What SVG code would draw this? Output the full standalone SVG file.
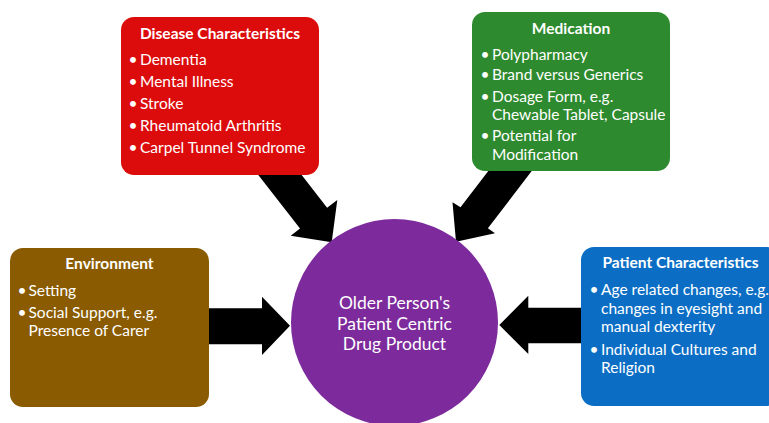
<svg xmlns="http://www.w3.org/2000/svg" width="769" height="423" viewBox="0 0 769 423">
<style>
.t{font-family:Lato,"Open Sans","Liberation Sans",sans-serif;fill:#ffffff}
.h{font-size:15.5px;font-weight:bold;text-anchor:middle}
.i{font-size:15.5px}
.b{font-size:15.5px;text-anchor:middle}
.c{font-size:17.5px;text-anchor:middle}
.arrow{fill:#000000}
</style>
<rect width="769" height="423" fill="#ffffff"/>
<g id="connectors">
<polygon class="arrow" points="258.3,175 301.7,175 327.1,207.8 337.3,200 331.7,242.3 290.7,235.7 300,228.6"/>
<polygon class="arrow" points="488.3,171 531.7,171 487.9,228.3 495,233.2 456,241.7 452.5,202.3 460.5,207.3"/>
<polygon class="arrow" points="205,308.3 262,308.3 262,296.7 290,325.7 262,355 262,344.3 205,344.3"/>
<polygon class="arrow" points="585,307.7 528.3,307.7 528.3,295.7 499.3,325 528.3,354 528.3,343.3 585,343.3"/>
</g>
<g id="disease">
<rect x="121" y="17" width="198" height="158" rx="13" fill="#dc0c0c"/>
<text class="t h" x="220" y="39">Disease Characteristics</text>
<text class="t b" x="133" y="65">•</text><text class="t i" x="140" y="65">Dementia</text>
<text class="t b" x="133" y="87">•</text><text class="t i" x="140" y="87">Mental Illness</text>
<text class="t b" x="133" y="109">•</text><text class="t i" x="140" y="109">Stroke</text>
<text class="t b" x="133" y="131">•</text><text class="t i" x="140" y="131">Rheumatoid Arthritis</text>
<text class="t b" x="133" y="153">•</text><text class="t i" x="140" y="153">Carpel Tunnel Syndrome</text>
</g>
<g id="medication">
<rect x="472" y="12" width="198" height="159" rx="13" fill="#2e8a2e"/>
<text class="t h" x="571" y="34">Medication</text>
<text class="t b" x="485" y="60">•</text><text class="t i" x="492" y="60">Polypharmacy</text>
<text class="t b" x="485" y="80">•</text><text class="t i" x="492" y="80">Brand versus Generics</text>
<text class="t b" x="485" y="102">•</text><text class="t i" x="492" y="102">Dosage Form, e.g.</text>
<text class="t i" x="492" y="120">Chewable Tablet, Capsule</text>
<text class="t b" x="485" y="141">•</text><text class="t i" x="492" y="141">Potential for</text>
<text class="t i" x="492" y="160">Modification</text>
</g>
<g id="environment">
<rect x="10" y="248" width="199" height="159" rx="13" fill="#8a5b00"/>
<text class="t h" x="109.5" y="269">Environment</text>
<text class="t b" x="22" y="296">•</text><text class="t i" x="28.5" y="296">Setting</text>
<text class="t b" x="22" y="318">•</text><text class="t i" x="28.5" y="318">Social Support, e.g.</text>
<text class="t i" x="28.5" y="336">Presence of Carer</text>
</g>
<g id="patient">
<rect x="581" y="247" width="199" height="159" rx="13" fill="#0b6ec4"/>
<text class="t h" x="680.5" y="268">Patient Characteristics</text>
<text class="t b" x="594" y="295">•</text><text class="t i" x="601" y="295">Age related changes, e.g.</text>
<text class="t i" x="601" y="314">changes in eyesight and</text>
<text class="t i" x="601" y="332">manual dexterity</text>
<text class="t b" x="594" y="355">•</text><text class="t i" x="601" y="355">Individual Cultures and</text>
<text class="t i" x="601" y="373">Religion</text>
</g>
<g id="product">
<circle cx="394.5" cy="322.5" r="103.5" fill="#7c2a9c"/>
<text class="t c" x="394.5" y="309">Older Person's</text>
<text class="t c" x="394.5" y="330">Patient Centric</text>
<text class="t c" x="394.5" y="350">Drug Product</text>
</g>
</svg>
